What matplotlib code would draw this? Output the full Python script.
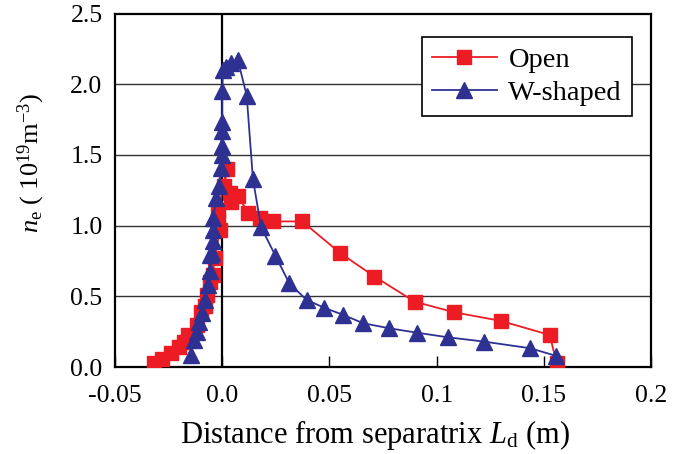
import matplotlib
matplotlib.use("Agg")
import matplotlib.pyplot as plt
import numpy as np

# data
open_x = [-0.032, -0.028, -0.024, -0.020, -0.018, -0.016, -0.012, -0.010, -0.008, -0.007,
          -0.0055, -0.0044, -0.0036, -0.001, -0.0018, -0.0018, 0.0022, 0.001, 0.0035, 0.0042,
          0.0073, 0.0121, 0.0176, 0.0235, 0.0373, 0.055, 0.071, 0.0897, 0.1079, 0.130,
          0.1527, 0.156]
open_y = [0.03, 0.06, 0.10, 0.14, 0.18, 0.23, 0.30, 0.39, 0.43, 0.51,
          0.60, 0.65, 0.77, 0.97, 1.04, 1.11, 1.40, 1.28, 1.23, 1.17,
          1.21, 1.09, 1.055, 1.03, 1.03, 0.806, 0.64, 0.463, 0.388, 0.326,
          0.227, 0.03]

wshape_x = [-0.0148, -0.0131, -0.0118, -0.0108, -0.0093, -0.0082, -0.0066, -0.0058, -0.0055,
            -0.005, -0.0045, -0.0042, -0.0042, -0.0028, -0.0016, -0.0005, -0.0003, -0.0003,
            -0.0003, 0.0, 0.0, 0.0003, 0.0019, 0.0042, 0.0073, 0.0114, 0.0143, 0.0181,
            0.0248, 0.0312, 0.0393, 0.0474, 0.0564, 0.0657, 0.0779, 0.0907, 0.1054,
            0.122, 0.1436, 0.1555]
wshape_y = [0.085, 0.19, 0.25, 0.32, 0.38, 0.475, 0.58, 0.676, 0.79,
            0.81, 0.89, 0.97, 1.055, 1.196, 1.28, 1.41, 1.50, 1.56,
            1.67, 1.73, 1.95, 2.10, 2.12, 2.15, 2.17, 1.92, 1.33, 0.99,
            0.787, 0.594, 0.475, 0.42, 0.369, 0.31, 0.274, 0.243, 0.21,
            0.18, 0.133, 0.08]

xticks = [-0.05, 0.0, 0.05, 0.1, 0.15, 0.2]
xticklabels = ["-0.05", "0.0", "0.05", "0.1", "0.15", "0.2"]
yticks = [0.0, 0.5, 1.0, 1.5, 2.0, 2.5]
yticklabels = ["0.0", "0.5", "1.0", "1.5", "2.0", "2.5"]

plt.rcParams['font.family'] = 'Liberation Serif'
plt.rcParams['mathtext.fontset'] = 'custom'
plt.rcParams['mathtext.rm'] = 'Liberation Serif'
plt.rcParams['mathtext.it'] = 'Liberation Serif:italic'

red = '#ED1C24'
blue = '#2E3192'

fig = plt.figure(figsize=(6.77, 4.54), dpi=100)
ax = fig.add_axes([0.170, 0.1916, 0.7916, 0.7784])

# grid and zero line
for yv in yticks[1:-1]:
    ax.axhline(yv, color='#333333', lw=1.0, zorder=0)
ax.axvline(0.0, color='black', lw=1.6, zorder=1)

ax.plot(open_x, open_y, color=red, lw=1.3, marker='s', markersize=9.5,
        markeredgecolor=red, label='Open', zorder=3)
ax.plot(wshape_x, wshape_y, color=blue, lw=1.3, marker='^', markersize=12,
        markeredgecolor=blue, label='W-shaped', zorder=4)

ax.set_xlim(-0.05, 0.2)
ax.set_ylim(0, 2.5)
ax.set_xticks(xticks)
ax.set_xticklabels(xticklabels)
ax.set_yticks(yticks)
ax.set_yticklabels(yticklabels)
ax.tick_params(axis='x', direction='in', length=8, width=1, labelsize=18.5, pad=13)
ax.tick_params(axis='y', length=0, labelsize=18.5, pad=9)
for sp in ax.spines.values():
    sp.set_linewidth(1.6)

ax.set_xlabel(r'Distance from separatrix $\mathit{L}$$\mathregular{_d}$ (m)', fontsize=22)
ax.xaxis.set_label_coords(0.485, -0.145)
ax.set_ylabel(r'$\mathit{n}_{\mathrm{e}}$ ( 10$^{19}$m$^{-3}$)', fontsize=19)
ax.yaxis.set_label_coords(-0.127, 0.577)

leg = ax.legend(loc='upper right', bbox_to_anchor=(0.9646, 0.934), borderaxespad=0,
                fontsize=20.5, frameon=True, fancybox=False, edgecolor='black',
                framealpha=1, handlelength=2.3, handletextpad=0.4, borderpad=0.35,
                labelspacing=0.25)
leg.get_frame().set_linewidth(1.2)

fig.savefig('out.png', dpi=100)
